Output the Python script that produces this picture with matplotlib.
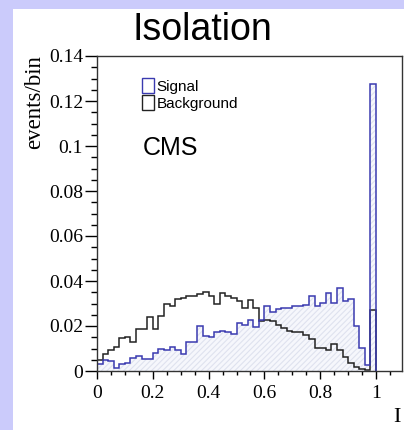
import numpy as np
import matplotlib
matplotlib.use("Agg")
import matplotlib.pyplot as plt
from matplotlib.patches import Patch, Rectangle
from matplotlib.ticker import MultipleLocator, FuncFormatter

# 50 bins of width 0.02 on [0, 1]
bin_width = 0.02
n_bins = 50

signal = [0.0030, 0.0051, 0.0043, 0.0013, 0.0032, 0.0035, 0.0060, 0.0065, 0.0055, 0.0054,
          0.0078, 0.0098, 0.0093, 0.0107, 0.0093, 0.0077, 0.0130, 0.0130, 0.0200, 0.0157,
          0.0150, 0.0172, 0.0179, 0.0172, 0.0164, 0.0212, 0.0205, 0.0227, 0.0197, 0.0226,
          0.0287, 0.0264, 0.0276, 0.0279, 0.0279, 0.0290, 0.0290, 0.0293, 0.0333, 0.0289,
          0.0304, 0.0348, 0.0304, 0.0370, 0.0310, 0.0320, 0.0202, 0.0101, 0.0028, 0.1276]

background = [0.0050, 0.0076, 0.0095, 0.0107, 0.0145, 0.0150, 0.0130, 0.0188, 0.0188, 0.0240,
              0.0188, 0.0243, 0.0300, 0.0290, 0.0320, 0.0325, 0.0333, 0.0333, 0.0342, 0.0350,
              0.0335, 0.0300, 0.0345, 0.0335, 0.0325, 0.0310, 0.0280, 0.0316, 0.0278, 0.0222,
              0.0225, 0.0222, 0.0205, 0.0192, 0.0180, 0.0175, 0.0175, 0.0160, 0.0142, 0.0104,
              0.0104, 0.0093, 0.0119, 0.0093, 0.0064, 0.0035, 0.0016, 0.0008, 0.0003, 0.0270]

labels = ["Signal", "Background"]

edges = np.arange(n_bins + 1) * bin_width

W, H = 404, 430
fig = plt.figure(figsize=(W / 100, H / 100), dpi=100)
fig.patch.set_facecolor("#cbcbfb")
fig.patches.append(Rectangle((13 / W, 0), 1, 1 - 9 / H, transform=fig.transFigure,
                             facecolor="white", edgecolor="none", zorder=-10))

ax = fig.add_axes([97 / W, 1 - 371 / H, 305 / W, 315 / H])
ax.set_facecolor("white")

blue = "#3a3ab0"
dark = "#222222"

plt.rcParams["hatch.linewidth"] = 0.8
ax.stairs(signal, edges, fill=True, facecolor="#f6f7fc", edgecolor="#dfe2ef",
          hatch="//////", linewidth=0)
ax.stairs(background, edges, color=dark, linewidth=1.1, baseline=0)
ax.stairs(signal, edges, color=blue, linewidth=1.1, baseline=0)

ax.set_xlim(0, 1.093)
ax.set_ylim(0, 0.14)

fmt = FuncFormatter(lambda v, p: "%g" % round(v, 4))
ax.xaxis.set_major_locator(MultipleLocator(0.2))
ax.xaxis.set_minor_locator(MultipleLocator(0.05))
ax.yaxis.set_major_locator(MultipleLocator(0.02))
ax.yaxis.set_minor_locator(MultipleLocator(0.005))
ax.xaxis.set_major_formatter(fmt)
ax.yaxis.set_major_formatter(fmt)

ax.tick_params(axis="x", which="major", direction="out", length=6, width=1, pad=4)
ax.tick_params(axis="x", which="minor", direction="out", length=3, width=1)
ax.tick_params(axis="y", which="major", direction="out", length=9, width=1, pad=1)
ax.tick_params(axis="y", which="minor", direction="out", length=4, width=1)
for lab in ax.get_xticklabels() + ax.get_yticklabels():
    lab.set_fontfamily("Liberation Serif")
    lab.set_fontsize(14)
for s in ax.spines.values():
    s.set_linewidth(1)
    s.set_color("#333333")

handles = [Patch(facecolor="white", edgecolor=blue, linewidth=1),
           Patch(facecolor="white", edgecolor=dark, linewidth=1)]
ax.legend(handles, labels, loc="upper left", bbox_to_anchor=(0.148, 0.93),
          frameon=False, borderaxespad=0, borderpad=0, handlelength=0.75,
          handleheight=1.15, handletextpad=0.2, labelspacing=0.1,
          prop={"family": "Liberation Sans", "size": 11})

ax.text(0.15, 0.685, "CMS", transform=ax.transAxes, fontsize=18,
        family="Liberation Sans", ha="left", va="baseline")

fig.text(0.502, 1 - 40 / H, "Isolation", ha="center", va="baseline",
         fontsize=27, family="Liberation Sans")
fig.text(35 / W, 1 - 55 / H, "events/bin", rotation=90, ha="center", va="top",
         fontsize=16.5, family="Liberation Serif")
fig.text(401 / W, 1 - 422 / H, "I", ha="right", va="baseline",
         fontsize=16, family="Liberation Serif")

fig.savefig("out.png", dpi=100)
